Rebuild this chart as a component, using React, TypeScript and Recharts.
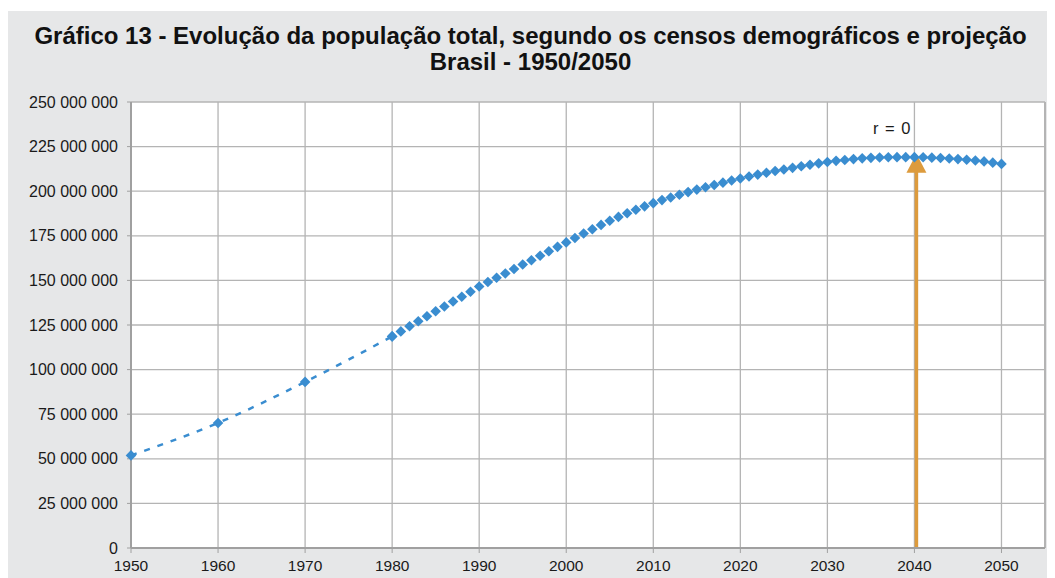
import React from 'react';
import { LineChart, Line, XAxis, YAxis, CartesianGrid, ReferenceLine, ReferenceDot } from 'recharts';

// Censos demográficos (linha tracejada)
const censusYears = [1950, 1960, 1970, 1980];
const censusPop = [51.9e6, 70.1e6, 93.1e6, 118.6e6];

// Projeção anual 1980-2050
const projectionYears = [
  1980, 1981, 1982, 1983, 1984, 1985, 1986, 1987, 1988, 1989,
  1990, 1991, 1992, 1993, 1994, 1995, 1996, 1997, 1998, 1999,
  2000, 2001, 2002, 2003, 2004, 2005, 2006, 2007, 2008, 2009,
  2010, 2011, 2012, 2013, 2014, 2015, 2016, 2017, 2018, 2019,
  2020, 2021, 2022, 2023, 2024, 2025, 2026, 2027, 2028, 2029,
  2030, 2031, 2032, 2033, 2034, 2035, 2036, 2037, 2038, 2039,
  2040, 2041, 2042, 2043, 2044, 2045, 2046, 2047, 2048, 2049,
  2050,
];
const projectionPop = [
  118.6e6, 121.4e6, 124.3e6, 127.1e6, 129.9e6, 132.7e6, 135.4e6, 138.2e6, 140.8e6, 143.6e6,
  146.6e6, 149.1e6, 151.5e6, 153.9e6, 156.4e6, 158.9e6, 161.3e6, 163.8e6, 166.3e6, 168.8e6,
  171.3e6, 173.8e6, 176.3e6, 178.7e6, 181.1e6, 183.4e6, 185.6e6, 187.6e6, 189.6e6, 191.5e6,
  193.3e6, 195.0e6, 196.5e6, 198.0e6, 199.5e6, 200.9e6, 202.2e6, 203.5e6, 204.8e6, 206.0e6,
  207.1e6, 208.2e6, 209.3e6, 210.3e6, 211.3e6, 212.2e6, 213.1e6, 214.0e6, 214.8e6, 215.6e6,
  216.4e6, 217.0e6, 217.5e6, 218.0e6, 218.4e6, 218.7e6, 218.9e6, 219.0e6, 219.1e6, 219.1e6,
  219.1e6, 219.0e6, 218.8e6, 218.6e6, 218.3e6, 218.0e6, 217.6e6, 217.2e6, 216.7e6, 216.0e6,
  215.3e6,
];

const xTicks = [1950, 1960, 1970, 1980, 1990, 2000, 2010, 2020, 2030, 2040, 2050];
const yTicks = [0, 25e6, 50e6, 75e6, 100e6, 125e6, 150e6, 175e6, 200e6, 225e6, 250e6];

// anotação: crescimento zero
const peakYear = 2040;
const arrowTip = 221e6;
const labelPos = 235.4e6;
const annotation = 'r = 0';

const census = censusYears.map((year, i) => ({ year, pop: censusPop[i] }));
const projection = projectionYears.map((year, i) => ({ year, pop: projectionPop[i] }));

const BLUE = '#3a8dd0';
const ORANGE = '#dd9b3d';
const GRID = '#b4b4b4';
const TEXT = '#1a1a1a';
const FONT = '"Liberation Sans", Arial, sans-serif';

const formatPop = (v: number) => String(Math.round(v)).replace(/\B(?=(\d{3})+(?!\d))/g, ' ');

const Diamond = (props: any) => {
  const { cx, cy } = props;
  if (cx == null || cy == null) return null;
  const r = 5.3;
  return <path d={`M${cx},${cy - r}L${cx + r},${cy}L${cx},${cy + r}L${cx - r},${cy}Z`} fill={BLUE} />;
};

const Arrow = (props: any) => {
  const { x1, y1, x2, y2 } = props;
  if (x1 == null) return null;
  const x = x1 + 2;
  const top = Math.min(y1, y2);
  const bottom = Math.max(y1, y2);
  return (
    <g>
      <line x1={x} y1={bottom} x2={x} y2={top + 16} stroke={ORANGE} strokeWidth={3.5} />
      <polygon points={`${x},${top} ${x + 10},${top + 19} ${x - 10},${top + 19}`} fill={ORANGE} />
    </g>
  );
};

const ArrowLabel = (props: any) => {
  const { cx, cy } = props;
  if (cx == null) return null;
  return (
    <text x={cx - 4} y={cy} textAnchor="end" dominantBaseline="central" fontSize={16.5} fill={TEXT} fontFamily={FONT} style={{ wordSpacing: 2 }}>
      {annotation}
    </text>
  );
};

export default function App() {
  return (
    <div style={{ position: 'relative', width: 1041, height: 567, marginLeft: -1, marginTop: 3, background: '#e6e7e8', fontFamily: FONT }}>
      <div
        style={{
          position: 'absolute',
          top: 12,
          left: 0,
          width: 1041,
          paddingLeft: 6,
          boxSizing: 'border-box',
          textAlign: 'center',
          fontWeight: 'bold',
          fontSize: 24,
          lineHeight: '26px',
          color: '#111',
        }}
      >
        <div>Gráfico 13 - Evolução da população total, segundo os censos demográficos e projeção</div>
        <div>Brasil - 1950/2050</div>
      </div>
      <div style={{ position: 'absolute', top: 0, left: 0 }}>
        <LineChart width={1041} height={567} margin={{ top: 91, right: 3, left: 0, bottom: 0 }}>
          <CartesianGrid fill="#fff" stroke={GRID} strokeWidth={1.3} />
          <XAxis
            dataKey="year"
            type="number"
            domain={[1950, 2055]}
            ticks={xTicks}
            height={30}
            tickSize={5}
            tickMargin={7}
            axisLine={{ stroke: '#a0a0a0', strokeWidth: 2 }}
            tickLine={{ stroke: '#a0a0a0' }}
            tick={{ fill: TEXT, fontSize: 15.5, fontFamily: FONT }}
            allowDuplicatedCategory={false}
          />
          <YAxis
            type="number"
            domain={[0, 250e6]}
            ticks={yTicks}
            width={124}
            tickSize={4}
            tickMargin={9}
            tickFormatter={formatPop}
            axisLine={{ stroke: '#a0a0a0', strokeWidth: 2 }}
            tickLine={{ stroke: '#a0a0a0' }}
            tick={{ fill: TEXT, fontSize: 16, fontFamily: FONT }}
          />
          <ReferenceLine x={2055} stroke={GRID} strokeWidth={2} />
          <Line
            data={census}
            dataKey="pop"
            type="monotone"
            stroke={BLUE}
            strokeWidth={2.5}
            strokeDasharray="6 8"
            dot={<Diamond />}
            activeDot={false}
            isAnimationActive={false}
          />
          <Line
            data={projection}
            dataKey="pop"
            stroke="none"
            dot={<Diamond />}
            activeDot={false}
            isAnimationActive={false}
          />
          <ReferenceLine
            segment={[{ x: peakYear, y: 0 }, { x: peakYear, y: arrowTip }]}
            shape={<Arrow />}
          />
          <ReferenceDot x={peakYear} y={labelPos} r={0} shape={<ArrowLabel />} />
        </LineChart>
      </div>
    </div>
  );
}
